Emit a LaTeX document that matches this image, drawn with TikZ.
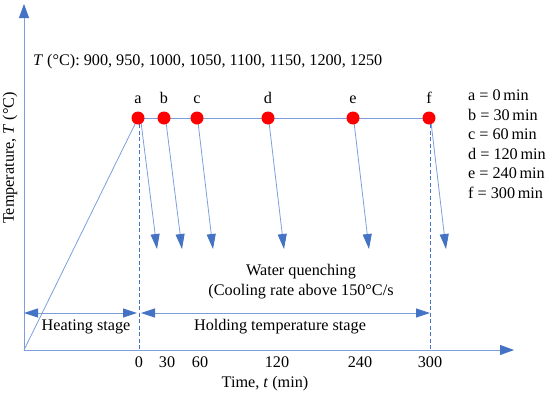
\documentclass[tikz,border=0pt]{standalone}
\usepackage{fontspec}
\setmainfont{Liberation Serif}
\usetikzlibrary{arrows.meta}
\definecolor{ablue}{HTML}{4472C4}
\definecolor{lblue}{HTML}{7C9FDC}
\tikzset{
  dot/.style={circle,fill=red,inner sep=0pt,minimum size=13pt},
  thin line/.style={draw=lblue,line width=0.8pt},
  cool/.style={draw=lblue,line width=0.8pt,-{Triangle[length=15pt,width=9pt,color=ablue]}},
  axisarrow/.style={draw=lblue,line width=0.8pt,-{Triangle[length=14pt,width=10pt,color=ablue]}},
  stage/.style={draw=lblue,line width=0.8pt,{Triangle[length=14pt,width=9pt,color=ablue]}-{Triangle[length=14pt,width=9pt,color=ablue]}},
  dashline/.style={draw=ablue,line width=0.7pt,dash pattern=on 4pt off 2.5pt},
  lbl/.style={font=\fontsize{16.2}{19}\selectfont,inner sep=0pt}
}
\begin{document}
\begin{tikzpicture}[x=1pt,y=-1pt]
\useasboundingbox (0,0) rectangle (550,394);
% coordinates
\coordinate (O) at (24,350);
\coordinate (ytop) at (24,4);
\coordinate (xend) at (514,350);
\coordinate (pa) at (138,118);
\coordinate (pb) at (164,118);
\coordinate (pc) at (197,118);
\coordinate (pd) at (268,118);
\coordinate (pe) at (353,118);
\coordinate (pf) at (429,118);
\coordinate (a0) at (139,350);
\coordinate (f0) at (430,350);
\coordinate (ea) at (157,249);
\coordinate (eb) at (182,249);
\coordinate (ec) at (213,249);
\coordinate (ed) at (284,249);
\coordinate (ee) at (369,249);
\coordinate (ef) at (446,249);
\coordinate (h1) at (24,313);
\coordinate (h2) at (137,313);
\coordinate (h3) at (141,313);
\coordinate (h4) at (430,313);
% axes
\draw[axisarrow] (O) -- (ytop);
\draw[axisarrow] (O) -- (xend);
% dashed
\draw[dashline] (139,124) -- (a0);
\draw[dashline] (430,124) -- (f0);
% profile
\draw[thin line] (O) -- (pa);
\draw[thin line] (pa) -- (pf);
% cooling arrows
\draw[cool] (141,122) -- (ea);
\draw[cool] (166,122) -- (eb);
\draw[cool] (198,122) -- (ec);
\draw[cool] (269,122) -- (ed);
\draw[cool] (354,122) -- (ee);
\draw[cool] (431,122) -- (ef);
% stages
\draw[stage] (h1) -- (h2);
\draw[stage] (h3) -- (h4);
% dots
\node[dot] (a) at (pa) {};
\node[dot] (b) at (pb) {};
\node[dot] (c) at (pc) {};
\node[dot] (d) at (pd) {};
\node[dot] (e) at (pe) {};
\node[dot] (f) at (pf) {};
\node[lbl,anchor=base] (la) at (138,103) {a};
\node[lbl,anchor=base] (lb) at (164,103) {b};
\node[lbl,anchor=base] (lc) at (197,103) {c};
\node[lbl,anchor=base] (ld) at (268,103) {d};
\node[lbl,anchor=base] (le) at (353,103) {e};
\node[lbl,anchor=base] (lf) at (429,103) {f};
% texts
\node[lbl,anchor=base west] (tt) at (33,65) {\textit{T} (°C): 900, 950, 1000, 1050, 1100, 1150, 1200, 1250};
\node[lbl,anchor=north west,align=left,font=\fontsize{16.2}{19.5}\selectfont] (leg) at (468,90) {a = 0\,min\\b = 30\,min\\c = 60\,min\\d = 120\,min\\e = 240\,min\\f = 300\,min};
\node[lbl,align=center,font=\fontsize{16.2}{20}\selectfont] (wq) at (301,282) {Water quenching\\(Cooling rate above 150°C/s};
\node[lbl,anchor=base] (hs) at (86,330) {Heating stage};
\node[lbl,anchor=base] (hts) at (280,330) {Holding temperature stage};
\node[lbl,anchor=base] (t0) at (139,367) {0};
\node[lbl,anchor=base] (t30) at (167,367) {30};
\node[lbl,anchor=base] (t60) at (200,367) {60};
\node[lbl,anchor=base] (t120) at (277,367) {120};
\node[lbl,anchor=base] (t240) at (360,367) {240};
\node[lbl,anchor=base] (t300) at (430,367) {300};
\node[lbl,anchor=base] (xl) at (265,387) {Time, \textit{t} (min)};
\node[lbl,rotate=90] (yl) at (10,158) {Temperature, \textit{T} (°C)};
\end{tikzpicture}
\end{document}
